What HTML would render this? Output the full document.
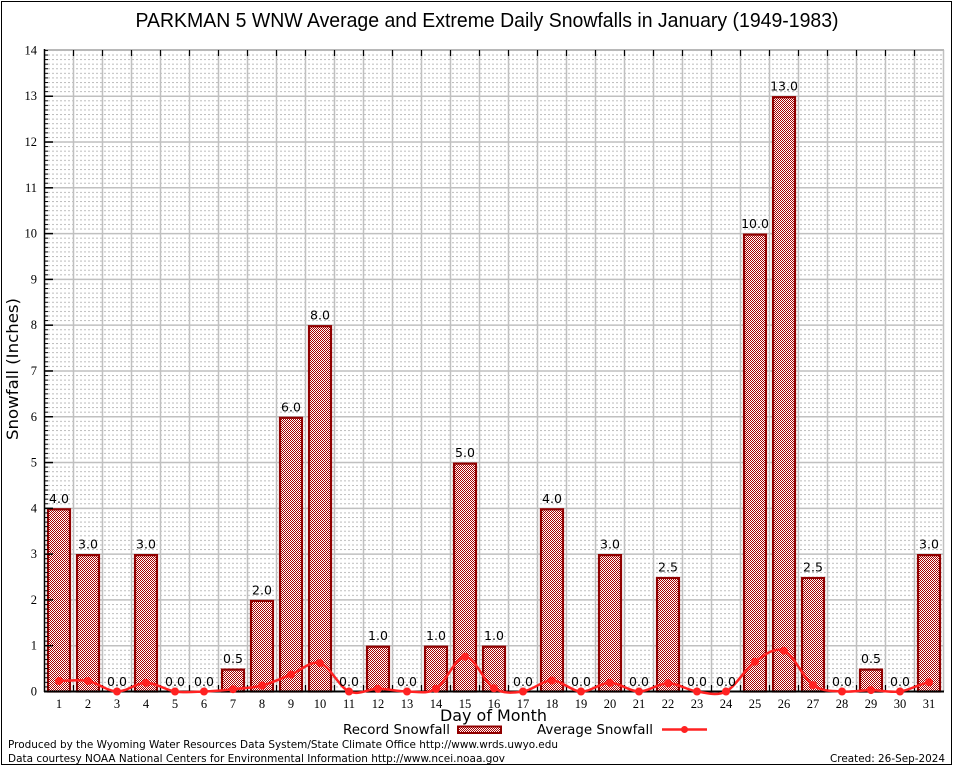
<!DOCTYPE html>
<html><head><meta charset="utf-8"><style>
html,body{margin:0;padding:0;background:#fff;}
svg{display:block;}
.sr{font-family:"Liberation Serif","DejaVu Serif",serif;font-size:12.5px;fill:#000;}
.dv{font-family:"DejaVu Sans","Liberation Sans",sans-serif;fill:#000;}
</style></head><body>
<svg width="954" height="768" viewBox="0 0 954 768" xmlns="http://www.w3.org/2000/svg">
<defs>
<pattern id="minor" patternUnits="userSpaceOnUse" x="0" y="49.94" width="4" height="4.579">
<rect x="0" y="0" width="2" height="1" fill="#bcbcbc"/>
</pattern>
<pattern id="tk" patternUnits="userSpaceOnUse" x="0" y="49.94" width="10" height="4.579">
<rect x="0" y="0" width="10" height="1" fill="#000"/>
</pattern>
<pattern id="chk" patternUnits="userSpaceOnUse" x="0" y="0" width="2" height="2">
<rect x="0" y="0" width="2" height="2" fill="#fff"/>
<rect x="0" y="0" width="1" height="1" fill="#a80000"/>
<rect x="1" y="1" width="1" height="1" fill="#a80000"/>
</pattern>
</defs>
<rect x="0" y="0" width="954" height="768" fill="#fff"/>
<rect x="1.5" y="1.5" width="950" height="763" fill="none" stroke="#000" stroke-width="1"/>

<text x="487" y="27" font-family="Liberation Sans, Arial, sans-serif" font-size="20" text-anchor="middle" textLength="703" lengthAdjust="spacingAndGlyphs">PARKMAN 5 WNW Average and Extreme Daily Snowfalls in January (1949-1983)</text>

<rect x="46" y="50" width="897" height="641" fill="url(#minor)"/>
<g stroke="#c0c0c0" stroke-width="1.5">
<line x1="44.5" x2="943.5" y1="645.71" y2="645.71"/>
<line x1="44.5" x2="943.5" y1="599.92" y2="599.92"/>
<line x1="44.5" x2="943.5" y1="554.13" y2="554.13"/>
<line x1="44.5" x2="943.5" y1="508.34" y2="508.34"/>
<line x1="44.5" x2="943.5" y1="462.55" y2="462.55"/>
<line x1="44.5" x2="943.5" y1="416.76" y2="416.76"/>
<line x1="44.5" x2="943.5" y1="370.97" y2="370.97"/>
<line x1="44.5" x2="943.5" y1="325.18" y2="325.18"/>
<line x1="44.5" x2="943.5" y1="279.39" y2="279.39"/>
<line x1="44.5" x2="943.5" y1="233.6" y2="233.6"/>
<line x1="44.5" x2="943.5" y1="187.81" y2="187.81"/>
<line x1="44.5" x2="943.5" y1="142.02" y2="142.02"/>
<line x1="44.5" x2="943.5" y1="96.23" y2="96.23"/>
</g>
<g stroke="#c0c0c0" stroke-width="1.5">
<line x1="73.5" x2="73.5" y1="50" y2="691"/><line x1="102.5" x2="102.5" y1="50" y2="691"/><line x1="131.5" x2="131.5" y1="50" y2="691"/><line x1="160.5" x2="160.5" y1="50" y2="691"/><line x1="189.5" x2="189.5" y1="50" y2="691"/><line x1="218.5" x2="218.5" y1="50" y2="691"/><line x1="247.5" x2="247.5" y1="50" y2="691"/><line x1="276.5" x2="276.5" y1="50" y2="691"/><line x1="305.5" x2="305.5" y1="50" y2="691"/><line x1="334.5" x2="334.5" y1="50" y2="691"/><line x1="363.5" x2="363.5" y1="50" y2="691"/><line x1="392.5" x2="392.5" y1="50" y2="691"/><line x1="421.5" x2="421.5" y1="50" y2="691"/><line x1="450.5" x2="450.5" y1="50" y2="691"/><line x1="479.5" x2="479.5" y1="50" y2="691"/><line x1="508.5" x2="508.5" y1="50" y2="691"/><line x1="537.5" x2="537.5" y1="50" y2="691"/><line x1="566.5" x2="566.5" y1="50" y2="691"/><line x1="595.5" x2="595.5" y1="50" y2="691"/><line x1="624.5" x2="624.5" y1="50" y2="691"/><line x1="653.5" x2="653.5" y1="50" y2="691"/><line x1="682.5" x2="682.5" y1="50" y2="691"/><line x1="711.5" x2="711.5" y1="50" y2="691"/><line x1="740.5" x2="740.5" y1="50" y2="691"/><line x1="769.5" x2="769.5" y1="50" y2="691"/><line x1="798.5" x2="798.5" y1="50" y2="691"/><line x1="827.5" x2="827.5" y1="50" y2="691"/><line x1="856.5" x2="856.5" y1="50" y2="691"/><line x1="885.5" x2="885.5" y1="50" y2="691"/><line x1="914.5" x2="914.5" y1="50" y2="691"/>
<line x1="943.5" x2="943.5" y1="50" y2="691"/>
</g>
<line x1="44" x2="944" y1="50" y2="50" stroke="#b8b8b8" stroke-width="2"/>

<g fill="url(#chk)" stroke="#900000" stroke-width="2.2">
<rect x="48" y="509.3" width="22" height="182.2"/>
<rect x="77" y="555.1" width="22" height="136.4"/>
<rect x="135" y="555.1" width="22" height="136.4"/>
<rect x="222" y="669.6" width="22" height="21.9"/>
<rect x="251" y="600.9" width="22" height="90.6"/>
<rect x="280" y="417.8" width="22" height="273.7"/>
<rect x="309" y="326.2" width="22" height="365.3"/>
<rect x="367" y="646.7" width="22" height="44.8"/>
<rect x="425" y="646.7" width="22" height="44.8"/>
<rect x="454" y="463.6" width="22" height="227.9"/>
<rect x="483" y="646.7" width="22" height="44.8"/>
<rect x="541" y="509.3" width="22" height="182.2"/>
<rect x="599" y="555.1" width="22" height="136.4"/>
<rect x="657" y="578" width="22" height="113.5"/>
<rect x="744" y="234.6" width="22" height="456.9"/>
<rect x="773" y="97.2" width="22" height="594.3"/>
<rect x="802" y="578" width="22" height="113.5"/>
<rect x="860" y="669.6" width="22" height="21.9"/>
<rect x="918" y="555.1" width="22" height="136.4"/>
</g>

<line x1="44.5" x2="44.5" y1="49" y2="692" stroke="#000" stroke-width="1.5"/>
<line x1="44" x2="944" y1="691.5" y2="691.5" stroke="#000" stroke-width="2"/>
<rect x="44.5" y="50" width="3.5" height="641" fill="url(#tk)"/>
<g stroke="#000" stroke-width="1.5">
<line x1="44.5" x2="53" y1="645.71" y2="645.71"/><line x1="44.5" x2="53" y1="599.92" y2="599.92"/><line x1="44.5" x2="53" y1="554.13" y2="554.13"/><line x1="44.5" x2="53" y1="508.34" y2="508.34"/><line x1="44.5" x2="53" y1="462.55" y2="462.55"/><line x1="44.5" x2="53" y1="416.76" y2="416.76"/><line x1="44.5" x2="53" y1="370.97" y2="370.97"/><line x1="44.5" x2="53" y1="325.18" y2="325.18"/><line x1="44.5" x2="53" y1="279.39" y2="279.39"/><line x1="44.5" x2="53" y1="233.6" y2="233.6"/><line x1="44.5" x2="53" y1="187.81" y2="187.81"/><line x1="44.5" x2="53" y1="142.02" y2="142.02"/><line x1="44.5" x2="53" y1="96.23" y2="96.23"/>
</g>
<g stroke="#000" stroke-width="1.2">
<line x1="73.5" x2="73.5" y1="50" y2="56"/><line x1="102.5" x2="102.5" y1="50" y2="56"/><line x1="131.5" x2="131.5" y1="50" y2="56"/><line x1="160.5" x2="160.5" y1="50" y2="56"/><line x1="189.5" x2="189.5" y1="50" y2="56"/><line x1="218.5" x2="218.5" y1="50" y2="56"/><line x1="247.5" x2="247.5" y1="50" y2="56"/><line x1="276.5" x2="276.5" y1="50" y2="56"/><line x1="305.5" x2="305.5" y1="50" y2="56"/><line x1="334.5" x2="334.5" y1="50" y2="56"/><line x1="363.5" x2="363.5" y1="50" y2="56"/><line x1="392.5" x2="392.5" y1="50" y2="56"/><line x1="421.5" x2="421.5" y1="50" y2="56"/><line x1="450.5" x2="450.5" y1="50" y2="56"/><line x1="479.5" x2="479.5" y1="50" y2="56"/><line x1="508.5" x2="508.5" y1="50" y2="56"/><line x1="537.5" x2="537.5" y1="50" y2="56"/><line x1="566.5" x2="566.5" y1="50" y2="56"/><line x1="595.5" x2="595.5" y1="50" y2="56"/><line x1="624.5" x2="624.5" y1="50" y2="56"/><line x1="653.5" x2="653.5" y1="50" y2="56"/><line x1="682.5" x2="682.5" y1="50" y2="56"/><line x1="711.5" x2="711.5" y1="50" y2="56"/><line x1="740.5" x2="740.5" y1="50" y2="56"/><line x1="769.5" x2="769.5" y1="50" y2="56"/><line x1="798.5" x2="798.5" y1="50" y2="56"/><line x1="827.5" x2="827.5" y1="50" y2="56"/><line x1="856.5" x2="856.5" y1="50" y2="56"/><line x1="885.5" x2="885.5" y1="50" y2="56"/><line x1="914.5" x2="914.5" y1="50" y2="56"/>
<line x1="73.5" x2="73.5" y1="691" y2="685"/><line x1="102.5" x2="102.5" y1="691" y2="685"/><line x1="131.5" x2="131.5" y1="691" y2="685"/><line x1="160.5" x2="160.5" y1="691" y2="685"/><line x1="189.5" x2="189.5" y1="691" y2="685"/><line x1="218.5" x2="218.5" y1="691" y2="685"/><line x1="247.5" x2="247.5" y1="691" y2="685"/><line x1="276.5" x2="276.5" y1="691" y2="685"/><line x1="305.5" x2="305.5" y1="691" y2="685"/><line x1="334.5" x2="334.5" y1="691" y2="685"/><line x1="363.5" x2="363.5" y1="691" y2="685"/><line x1="392.5" x2="392.5" y1="691" y2="685"/><line x1="421.5" x2="421.5" y1="691" y2="685"/><line x1="450.5" x2="450.5" y1="691" y2="685"/><line x1="479.5" x2="479.5" y1="691" y2="685"/><line x1="508.5" x2="508.5" y1="691" y2="685"/><line x1="537.5" x2="537.5" y1="691" y2="685"/><line x1="566.5" x2="566.5" y1="691" y2="685"/><line x1="595.5" x2="595.5" y1="691" y2="685"/><line x1="624.5" x2="624.5" y1="691" y2="685"/><line x1="653.5" x2="653.5" y1="691" y2="685"/><line x1="682.5" x2="682.5" y1="691" y2="685"/><line x1="711.5" x2="711.5" y1="691" y2="685"/><line x1="740.5" x2="740.5" y1="691" y2="685"/><line x1="769.5" x2="769.5" y1="691" y2="685"/><line x1="798.5" x2="798.5" y1="691" y2="685"/><line x1="827.5" x2="827.5" y1="691" y2="685"/><line x1="856.5" x2="856.5" y1="691" y2="685"/><line x1="885.5" x2="885.5" y1="691" y2="685"/><line x1="914.5" x2="914.5" y1="691" y2="685"/>
</g>

<path fill="none" stroke="#ff2222" stroke-width="2.5" d="M59,681 C68.67,681 78.33,679.25 88,681 C97.67,682.75 107.33,691.2 117,691.5 C126.67,691.8 136.33,682.8 146,682.8 C155.67,682.8 165.33,690.05 175,691.5 C184.67,692.95 194.33,691.88 204,691.5 C213.67,691.12 223.33,690.2 233,689.2 C242.67,688.2 252.33,687.93 262,685.5 C271.67,683.07 281.33,678.33 291,674.6 C300.67,670.87 310.33,660.28 320,663.1 C329.67,665.92 339.33,687.22 349,691.5 C358.67,695.78 368.33,688.8 378,688.8 C387.67,688.8 397.33,691.5 407,691.5 C416.67,691.5 426.33,694.6 436,688.8 C445.67,683 455.33,656.78 465,656.7 C474.67,656.62 484.33,682.5 494,688.3 C503.67,694.1 513.33,692.8 523,691.5 C532.67,690.2 542.33,680.5 552,680.5 C561.67,680.5 571.33,691.12 581,691.5 C590.67,691.88 600.33,682.8 610,682.8 C619.67,682.8 629.33,691.42 639,691.5 C648.67,691.58 658.33,683.3 668,683.3 C677.67,683.3 687.33,690.13 697,691.5 C706.67,692.87 716.33,696.47 726,691.5 C735.67,686.53 745.33,668.5 755,661.7 C764.67,654.9 774.33,646.8 784,650.7 C793.67,654.6 803.33,678.3 813,685.1 C822.67,691.9 832.33,690.67 842,691.5 C851.67,692.33 861.33,690.1 871,690.1 C880.67,690.1 890.33,692.8 900,691.5 C909.67,690.2 919.33,683.83 929,682.3"/>
<g fill="#ff2222">
<circle cx="59" cy="681" r="4"/><circle cx="88" cy="681" r="4"/><circle cx="117" cy="691.5" r="4"/><circle cx="146" cy="682.8" r="4"/><circle cx="175" cy="691.5" r="4"/><circle cx="204" cy="691.5" r="4"/><circle cx="233" cy="689.2" r="4"/><circle cx="262" cy="685.5" r="4"/><circle cx="291" cy="674.6" r="4"/><circle cx="320" cy="663.1" r="4"/><circle cx="349" cy="691.5" r="4"/><circle cx="378" cy="688.8" r="4"/><circle cx="407" cy="691.5" r="4"/><circle cx="436" cy="688.8" r="4"/><circle cx="465" cy="656.7" r="4"/><circle cx="494" cy="688.3" r="4"/><circle cx="523" cy="691.5" r="4"/><circle cx="552" cy="680.5" r="4"/><circle cx="581" cy="691.5" r="4"/><circle cx="610" cy="682.8" r="4"/><circle cx="639" cy="691.5" r="4"/><circle cx="668" cy="683.3" r="4"/><circle cx="697" cy="691.5" r="4"/><circle cx="726" cy="691.5" r="4"/><circle cx="755" cy="661.7" r="4"/><circle cx="784" cy="650.7" r="4"/><circle cx="813" cy="685.1" r="4"/><circle cx="842" cy="691.5" r="4"/><circle cx="871" cy="690.1" r="4"/><circle cx="900" cy="691.5" r="4"/><circle cx="929" cy="682.3" r="4"/>
</g>

<g class="dv" font-size="12.5" text-anchor="middle">
<text x="59" y="502.8">4.0</text><text x="88" y="548.6">3.0</text><text x="117" y="686">0.0</text><text x="146" y="548.6">3.0</text><text x="175" y="686">0.0</text><text x="204" y="686">0.0</text><text x="233" y="663.1">0.5</text><text x="262" y="594.4">2.0</text><text x="291" y="411.3">6.0</text><text x="320" y="319.7">8.0</text><text x="349" y="686">0.0</text><text x="378" y="640.2">1.0</text><text x="407" y="686">0.0</text><text x="436" y="640.2">1.0</text><text x="465" y="457">5.0</text><text x="494" y="640.2">1.0</text><text x="523" y="686">0.0</text><text x="552" y="502.8">4.0</text><text x="581" y="686">0.0</text><text x="610" y="548.6">3.0</text><text x="639" y="686">0.0</text><text x="668" y="571.5">2.5</text><text x="697" y="686">0.0</text><text x="726" y="686">0.0</text><text x="755" y="228.1">10.0</text><text x="784" y="90.7">13.0</text><text x="813" y="571.5">2.5</text><text x="842" y="686">0.0</text><text x="871" y="663.1">0.5</text><text x="900" y="686">0.0</text><text x="929" y="548.6">3.0</text>
</g>

<g class="sr" text-anchor="end">
<text x="37" y="695.5">0</text><text x="37" y="649.7">1</text><text x="37" y="603.9">2</text><text x="37" y="558.1">3</text><text x="37" y="512.3">4</text><text x="37" y="466.5">5</text><text x="37" y="420.8">6</text><text x="37" y="375">7</text><text x="37" y="329.2">8</text><text x="37" y="283.4">9</text><text x="37" y="237.6">10</text><text x="37" y="191.8">11</text><text x="37" y="146">12</text><text x="37" y="100.2">13</text><text x="37" y="54.4">14</text>
</g>
<g class="sr" text-anchor="middle">
<text x="59" y="708">1</text><text x="88" y="708">2</text><text x="117" y="708">3</text><text x="146" y="708">4</text><text x="175" y="708">5</text><text x="204" y="708">6</text><text x="233" y="708">7</text><text x="262" y="708">8</text><text x="291" y="708">9</text><text x="320" y="708">10</text><text x="349" y="708">11</text><text x="378" y="708">12</text><text x="407" y="708">13</text><text x="436" y="708">14</text><text x="465" y="708">15</text><text x="494" y="708">16</text><text x="523" y="708">17</text><text x="552" y="708">18</text><text x="581" y="708">19</text><text x="610" y="708">20</text><text x="639" y="708">21</text><text x="668" y="708">22</text><text x="697" y="708">23</text><text x="726" y="708">24</text><text x="755" y="708">25</text><text x="784" y="708">26</text><text x="813" y="708">27</text><text x="842" y="708">28</text><text x="871" y="708">29</text><text x="900" y="708">30</text><text x="929" y="708">31</text>
</g>

<text class="dv" x="440" y="721" font-size="16" textLength="107" lengthAdjust="spacingAndGlyphs">Day of Month</text>
<text class="dv" transform="translate(18,440) rotate(-90)" x="0" y="0" font-size="16" textLength="142" lengthAdjust="spacingAndGlyphs">Snowfall (Inches)</text>

<text class="dv" x="343" y="734" font-size="13" textLength="107" lengthAdjust="spacingAndGlyphs">Record Snowfall</text>
<rect x="458" y="726.5" width="43" height="6.5" fill="url(#chk)" stroke="#900000" stroke-width="2"/>
<text class="dv" x="537" y="734" font-size="13" textLength="116" lengthAdjust="spacingAndGlyphs">Average Snowfall</text>
<line x1="662" x2="707" y1="729.5" y2="729.5" stroke="#ff2222" stroke-width="2.5"/>
<circle cx="684.5" cy="729.5" r="3.5" fill="#ff2222"/>

<text class="dv" x="8" y="748" font-size="11" textLength="550" lengthAdjust="spacingAndGlyphs">Produced by the Wyoming Water Resources Data System/State Climate Office http://www.wrds.uwyo.edu</text>
<text class="dv" x="8" y="762" font-size="11" textLength="497" lengthAdjust="spacingAndGlyphs">Data courtesy NOAA National Centers for Environmental Information http://www.ncei.noaa.gov</text>
<text class="dv" x="830" y="762" font-size="11" textLength="115" lengthAdjust="spacingAndGlyphs">Created: 26-Sep-2024</text>
</svg>
</body></html>
